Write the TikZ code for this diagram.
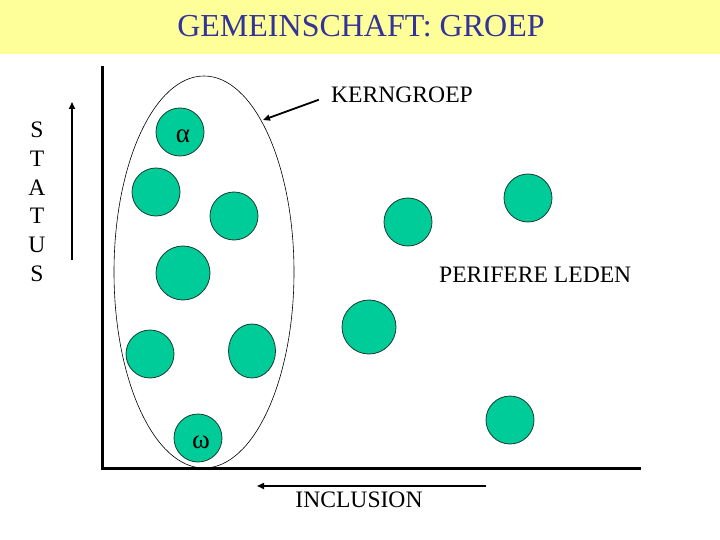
\documentclass[tikz,border=0pt]{standalone}
\usepackage{fontspec}
\setmainfont{Liberation Serif}
\usetikzlibrary{arrows.meta,shapes.geometric}
\definecolor{bandyellow}{RGB}{255,255,153}
\definecolor{titleblue}{RGB}{51,51,153}
\definecolor{memgreen}{RGB}{0,204,153}
\definecolor{memline}{RGB}{25,60,45}
\newcommand{\greekmark}[1]{\hspace{6pt}\raisebox{0pt}[\dimexpr\height+8pt\relax][0pt]{#1}}

\begin{document}
\begin{tikzpicture}[x=1pt, y=-1pt,
  lbl/.style={font=\fontsize{23.6}{28}\selectfont, inner sep=0pt},
  member/.style={ellipse, fill=memgreen, draw=memline, line width=0.8pt,
    inner sep=0pt, font=\fontsize{27}{30}\selectfont},
  pointer/.style={line width=1.8pt, -{Triangle[length=7pt,width=6pt]}}]
\useasboundingbox (0,0) rectangle (720,540);
\fill[bandyellow] (0,0) rectangle (720,54);
\node[font=\fontsize{32}{38}\selectfont, text=titleblue, inner sep=0pt,
  anchor=base] (title) at (361,37) {GEMEINSCHAFT: GROEP};

% assen
\coordinate (ytop) at (102,66);
\coordinate (orig) at (102,468);
\coordinate (xend) at (641,468);
\draw[line width=3pt] (ytop) -- (orig) -- (xend);

% kerngroep
\node[ellipse, draw, line width=0.6pt, minimum width=180pt,
  minimum height=392pt, inner sep=0pt] (kern) at (204,272) {};

% leden
\foreach \n/\px/\py/\w/\h/\lab in {
    alpha/180/132/48/48/{\greekmark{α}}, m2/156/192/48/48/{}, m3/234/216/48/48/{},
    m4/183/273/54/54/{}, m5/150/354/48/48/{}, m6/252/351/47/54/{},
    omega/198/438/48/48/{\greekmark{ω}}, m8/408/222/48/48/{}, m9/528/198/48/48/{},
    m10/369/327/54/54/{}, m11/510/420/48/48/{}}
  \node[member, minimum width=\w pt, minimum height=\h pt] (\n) at (\px,\py) {\lab};

% labels
\node[lbl, anchor=base west] (kerntext) at (331,103) {KERNGROEP};
\coordinate (kerntip) at (263,120);
\draw[pointer, shorten <=13pt] (kerntext.west) -- (kerntip);

\node[lbl, anchor=base west] (perif) at (439,282) {PERIFERE LEDEN};

\foreach \i/\ch in {0/S,1/T,2/A,3/T,4/U,5/S}
  \node[lbl, anchor=base] (st\i) at (37,{138+28.6*\i}) {\ch};
\coordinate (stbot) at (72,260);
\coordinate (sttop) at (72,102);
\draw[pointer, line width=1.6pt] (stbot) -- (sttop);

\node[lbl, anchor=base] (incl) at (359,507) {INCLUSION};
\coordinate (inclr) at (486,486);
\coordinate (incll) at (257,486);
\draw[pointer, line width=1.6pt] (inclr) -- (incll);
\end{tikzpicture}
\end{document}
